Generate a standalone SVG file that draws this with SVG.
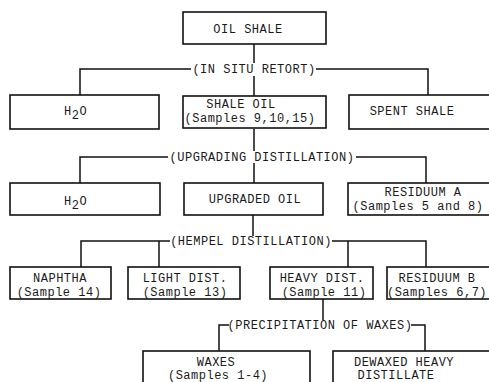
<svg xmlns="http://www.w3.org/2000/svg" width="489" height="382" viewBox="0 0 489 382">
<style>
.box{fill:#fff;stroke:#111;stroke-width:1.6}
.ln{fill:none;stroke:#111;stroke-width:1.5}
text{font-family:"Liberation Mono","DejaVu Sans Mono",monospace;font-size:12px;letter-spacing:0.5px;fill:#1a1a1a;text-anchor:middle}
.lt{text-anchor:start}
</style>
<rect width="489" height="382" fill="#fff"/>
<g id="connectors">
<path class="ln" d="M254,44V63M254,76V96"/>
<path class="ln" d="M80,95V69H191M316,69H428V95"/>
<path class="ln" d="M254,129V151M254,163V183"/>
<path class="ln" d="M80,183V157H168M356,157H426V183"/>
<path class="ln" d="M253,215V236"/>
<path class="ln" d="M81,267V241H170M159,241V267M332,241H426V267M348,241V267"/>
<path class="ln" d="M323,299V320"/>
<path class="ln" d="M219,351V325H229M411,325H425V351"/>
<text x="254" y="73">(IN SITU RETORT)</text>
<text x="262" y="161">(UPGRADING DISTILLATION)</text>
<text x="251" y="245">(HEMPEL DISTILLATION)</text>
<text x="320" y="329">(PRECIPITATION OF WAXES)</text>
</g>
<g id="oil-shale"><rect class="box" x="183" y="12" width="143" height="32"/><text x="248" y="33">OIL SHALE</text></g>
<g id="h2o-1"><rect class="box" x="10" y="95" width="149" height="34"/><text class="lt" x="64" y="115">H<tspan dy="4">2</tspan><tspan dy="-4">O</tspan></text></g>
<g id="shale-oil"><rect class="box" x="183" y="96" width="143" height="32"/><text x="241" y="108">SHALE OIL</text><text x="250" y="122">(Samples 9,10,15)</text></g>
<g id="spent-shale"><rect class="box" x="349" y="95" width="150" height="34"/><text x="412" y="115">SPENT SHALE</text></g>
<g id="h2o-2"><rect class="box" x="10" y="183" width="150" height="32"/><text class="lt" x="64" y="205">H<tspan dy="4">2</tspan><tspan dy="-4">O</tspan></text></g>
<g id="upgraded-oil"><rect class="box" x="184" y="183" width="139" height="32"/><text x="255" y="203">UPGRADED OIL</text></g>
<g id="residuum-a"><rect class="box" x="348" y="183" width="150" height="32"/><text x="423" y="196">RESIDUUM A</text><text x="418" y="210">(Samples 5 and 8)</text></g>
<g id="naphtha"><rect class="box" x="10" y="267" width="101" height="32"/><text x="60" y="282">NAPHTHA</text><text x="59" y="296">(Sample 14)</text></g>
<g id="light-dist"><rect class="box" x="128" y="267" width="112" height="32"/><text x="185" y="282">LIGHT DIST.</text><text x="185" y="296">(Sample 13)</text></g>
<g id="heavy-dist"><rect class="box" x="270" y="267" width="103" height="32"/><text x="322" y="282">HEAVY DIST.</text><text x="324" y="296">(Sample 11)</text></g>
<g id="residuum-b"><rect class="box" x="387" y="267" width="110" height="32"/><text x="437" y="282">RESIDUUM B</text><text x="437" y="296">(Samples 6,7)</text></g>
<g id="waxes"><rect class="box" x="143" y="351" width="167" height="45"/><text x="216" y="366">WAXES</text><text x="218" y="379">(Samples 1-4)</text></g>
<g id="dewaxed"><rect class="box" x="333" y="351" width="165" height="45"/><text x="404" y="366">DEWAXED HEAVY</text><text x="396" y="379">DISTILLATE</text></g>
</svg>
